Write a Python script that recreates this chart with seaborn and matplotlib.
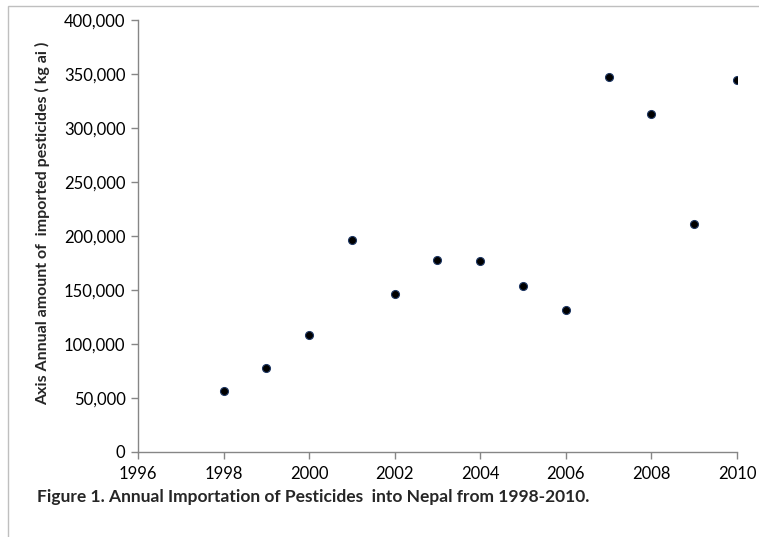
import matplotlib
matplotlib.use("Agg")
import matplotlib.pyplot as plt
import matplotlib.ticker as mticker
import pandas as pd
import seaborn as sns

years = [1998, 1999, 2000, 2001, 2002, 2003, 2004, 2005, 2006, 2007, 2008, 2009, 2010]
amount = [56500, 77800, 108300, 196000, 146300, 177700, 176500, 153700, 131500,
          347200, 312500, 211000, 344800]
x_ticks = [1996, 1998, 2000, 2002, 2004, 2006, 2008, 2010]
y_ticks = [0, 50000, 100000, 150000, 200000, 250000, 300000, 350000, 400000]

df = pd.DataFrame({"Year": years, "Amount": amount})

sns.set_style("white")
plt.rcParams["font.family"] = ["Lato", "DejaVu Sans"]

fig = plt.figure(figsize=(7.59, 5.37), dpi=100)
ax = fig.add_axes([0.1818, 0.1583, 0.971 - 0.1818, 0.9628 - 0.1583])

sns.scatterplot(data=df, x="Year", y="Amount", ax=ax, color="black",
                edgecolor="#1f3864", linewidth=0.8, s=33, zorder=3)

ax.set_xlim(1996, 2010)
ax.set_ylim(0, 400000)
ax.set_xticks(x_ticks)
ax.set_yticks(y_ticks)
ax.yaxis.set_major_formatter(mticker.FuncFormatter(lambda v, p: f"{int(v):,}"))

for side in ["top", "right"]:
    ax.spines[side].set_visible(False)
for side in ["left", "bottom"]:
    ax.spines[side].set_color("#868686")
    ax.spines[side].set_linewidth(1)
ax.tick_params(axis="both", direction="out", length=5, width=1, color="#868686",
               labelsize=12, labelcolor="black", pad=4,
               bottom=True, left=True)
ax.tick_params(axis="x", pad=5)

ax.set_xlabel("")
ax.set_ylabel("Axis Annual amount of  imported pesticides ( kg ai )",
              fontsize=11.5, fontweight="bold")
ax.yaxis.set_label_coords(-0.160, 0.529)
ax.yaxis.label.set_va("center")

fig.text(37 / 759, 1 - 497 / 537,
         "Figure 1. Annual Importation of Pesticides  into Nepal from 1998-2010.",
         fontsize=12.5, fontweight="bold", va="center", ha="left")

# outer frame like the chart area border
frame = plt.Rectangle((8 / 759, -0.1), 1.1, 1 - 6 / 537 + 0.1, transform=fig.transFigure,
                      fill=False, edgecolor="#bfbfbf", linewidth=1)
fig.patches.append(frame)

fig.savefig("out.png", dpi=100)
